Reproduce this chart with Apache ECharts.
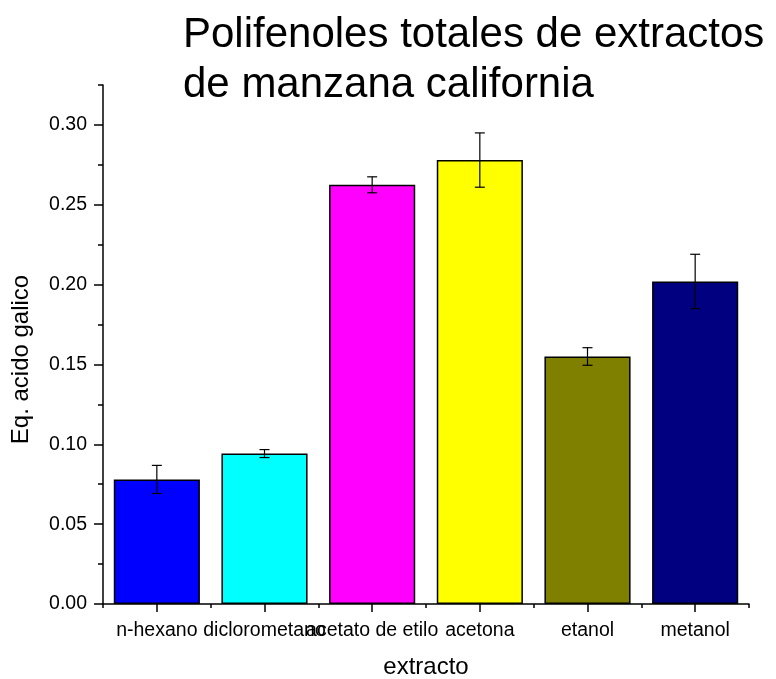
<!DOCTYPE html>
<html>
<head>
<meta charset="utf-8">
<script src="https://cdn.jsdelivr.net/npm/echarts@6/dist/echarts.min.js"></script>
<style>html,body{margin:0;padding:0;background:#fff}#c{width:776px;height:679px}</style>
</head>
<body>
<div id="c"></div>
<script>
var categories = ['n-hexano', 'diclorometano', 'acetato de etilo', 'acetona', 'etanol', 'metanol'];
var values = [0.078, 0.0942, 0.2625, 0.278, 0.155, 0.202];
var errors = [0.0088, 0.0025, 0.005, 0.017, 0.0055, 0.017];
var colors = ['#0000FF', '#00FFFF', '#FF00FF', '#FFFF00', '#808000', '#000080'];
var majorTicks = [0, 0.05, 0.10, 0.15, 0.20, 0.25, 0.30];
var minorTicks = [0.025, 0.075, 0.125, 0.175, 0.225, 0.275, 0.325];

var FONT = 'Liberation Sans, Arial, sans-serif';
var chart = echarts.init(document.getElementById('c'));
var grid = {left: 103, right: 27, top: 85, bottom: 75, containLabel: false, outerBoundsMode: 'none'};
var option = {
  backgroundColor: '#fff',
  animation: false,
  title: {
    text: 'Polifenoles totales de extractos\nde manzana california',
    left: 178, top: 5,
    textStyle: {fontFamily: FONT, fontSize: 42, fontWeight: 'normal', color: '#000', lineHeight: 50}
  },
  grid: grid,
  xAxis: [{
    type: 'category', data: categories,
    axisLine: {show: true, lineStyle: {color: '#000', width: 1.5}},
    axisTick: {show: true, alignWithLabel: true, length: 8, lineStyle: {color: '#000', width: 1.5}},
    axisLabel: {interval: 0, color: '#000', fontFamily: FONT, fontSize: 19.5, margin: 17},
    name: 'extracto', nameLocation: 'middle', nameGap: 51,
    nameTextStyle: {fontFamily: FONT, fontSize: 24, color: '#000'},
    splitLine: {show: false}
  }, {
    type: 'category', data: categories, position: 'bottom',
    axisLine: {show: false},
    axisTick: {show: true, length: 4, lineStyle: {color: '#000', width: 1.5}},
    axisLabel: {show: false}, splitLine: {show: false}
  }],
  yAxis: [{
    type: 'value', min: 0, max: 0.325, interval: 0.025,
    axisLine: {show: true, lineStyle: {color: '#000', width: 1.5}},
    axisTick: {show: true, length: 9, customValues: majorTicks, lineStyle: {color: '#000', width: 1.5}},
    axisLabel: {customValues: majorTicks, color: '#000', fontFamily: FONT, fontSize: 19.5, margin: 16,
      formatter: function (v) { return v.toFixed(2); }},
    splitLine: {show: false},
    name: 'Eq. acido galico', nameLocation: 'middle', nameGap: 70,
    nameTextStyle: {fontFamily: FONT, fontSize: 24, color: '#000', padding: [0, 30, 0, 0]}
  }, {
    type: 'value', min: 0, max: 0.325, interval: 0.025, position: 'left',
    axisLine: {show: false},
    axisTick: {show: true, length: 5, customValues: minorTicks, lineStyle: {color: '#000', width: 1.5}},
    axisLabel: {show: false}, splitLine: {show: false}
  }],
  series: [{
    type: 'bar', xAxisIndex: 0, yAxisIndex: 0,
    barCategoryGap: '20%',
    data: values.map(function (v, i) {
      return {value: v, itemStyle: {color: colors[i], borderColor: '#000', borderWidth: 1.5}};
    })
  }, {
    type: 'custom', xAxisIndex: 0, yAxisIndex: 0, z: 10,
    data: values.map(function (v, i) { return [i, v - errors[i], v + errors[i]]; }),
    renderItem: function (params, api) {
      var lo = api.coord([api.value(0), api.value(1)]);
      var hi = api.coord([api.value(0), api.value(2)]);
      var x = lo[0], w = 5;
      var st = {stroke: '#000', lineWidth: 1.2};
      return {type: 'group', children: [
        {type: 'line', shape: {x1: x, y1: lo[1], x2: x, y2: hi[1]}, style: st},
        {type: 'line', shape: {x1: x - w, y1: lo[1], x2: x + w, y2: lo[1]}, style: st},
        {type: 'line', shape: {x1: x - w, y1: hi[1], x2: x + w, y2: hi[1]}, style: st}
      ]};
    }
  }]
};
chart.setOption(option);
</script>
</body>
</html>
